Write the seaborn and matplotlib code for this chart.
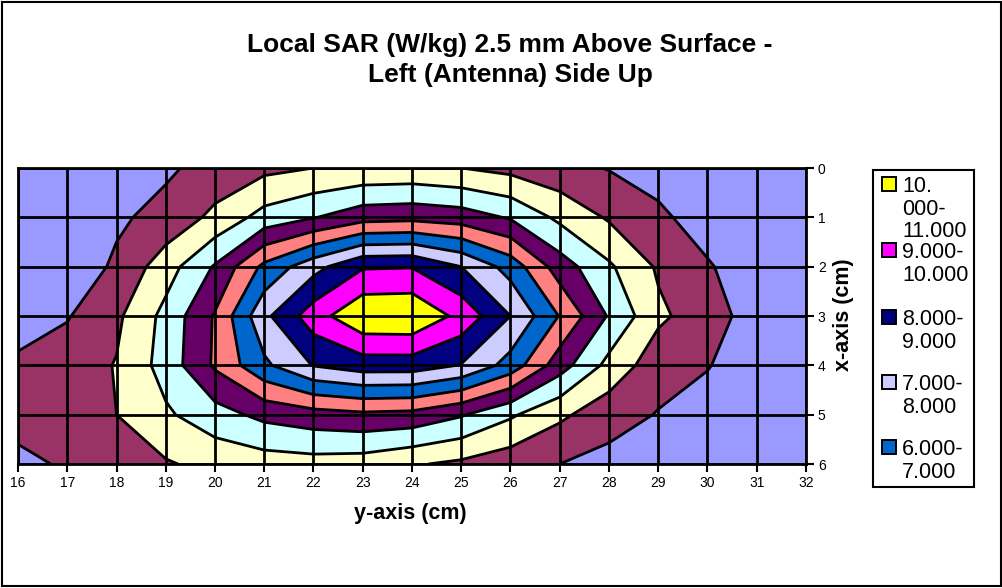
import numpy as np
import matplotlib
matplotlib.use("Agg")
import matplotlib.pyplot as plt
from matplotlib.patches import Rectangle
import seaborn as sns

# ---- data -------------------------------------------------------------
y_cm = list(range(16, 33))          # horizontal axis ("y-axis (cm)")
x_cm = list(range(0, 7))            # vertical axis ("x-axis (cm)")

sar_x0 = [0.15, 0.3, 0.5, 0.85, 1.35, 1.75, 2.0, 2.15, 2.2, 2.0, 1.7, 1.3, 0.95, 0.6, 0.4, 0.3, 0.2]
sar_x1 = [0.25, 0.5, 0.85, 1.3, 2.25, 3.37, 3.95, 4.6, 4.7, 4.5, 3.9, 2.77, 1.88, 1.2, 0.53, 0.35, 0.25]
sar_x2 = [0.2, 0.4, 1.15, 2.55, 4.1, 6.25, 7.64, 8.9, 8.95, 8.0, 6.6, 4.5, 3.15, 1.87, 1.1, 0.4, 0.2]
sar_x3 = [0.5, 0.93, 1.8, 3.3, 5.1, 7.75, 9.55, 10.85, 10.9, 9.7, 8.0, 5.95, 3.9, 2.2, 1.45, 0.55, 0.3]
sar_x4 = [1.2, 1.5, 2.05, 3.4, 5.15, 6.8, 8.05, 8.5, 8.5, 7.95, 6.6, 4.45, 2.7, 1.4, 1.05, 0.45, 0.25]
sar_x5 = [1.3, 1.6, 2.0, 2.85, 3.6, 4.27, 4.6, 4.8, 4.7, 4.1, 3.15, 2.2, 1.4, 0.95, 0.6, 0.4, 0.25]
sar_x6 = [0.8, 1.1, 1.5, 1.9, 2.3, 2.5, 2.6, 2.5, 2.1, 1.8, 1.4, 1.0, 0.7, 0.5, 0.35, 0.3, 0.2]

levels = [0, 1, 2, 3, 4, 5, 6, 7, 8, 9, 10, 11]
band_colors = ["#9999FF", "#993366", "#FFFFCC", "#CCFFFF", "#660066", "#FF8080",
               "#0066CC", "#CCCCFF", "#000080", "#FF00FF", "#FFFF00"]

legend_labels = ["10.\n000-\n11.000", "9.000-\n10.000", "8.000-\n9.000",
                 "7.000-\n8.000", "6.000-\n7.000"]
legend_colors = ["#FFFF00", "#FF00FF", "#000080", "#CCCCFF", "#0066CC"]

title = "Local SAR (W/kg) 2.5 mm Above Surface -\nLeft (Antenna) Side Up"

# ---- style ------------------------------------------------------------
sns.set_theme(style="white")
plt.rcParams["font.family"] = ["Liberation Sans", "DejaVu Sans"]

W, H = 1003, 588
fig = plt.figure(figsize=(W / 100, H / 100), dpi=100)
fig.patch.set_facecolor("white")

L, R, T, B = 18, 806, 168, 464
ax = fig.add_axes([L / W, 1 - B / H, (R - L) / W, (B - T) / H])

Z = np.array([sar_x0, sar_x1, sar_x2, sar_x3, sar_x4, sar_x5, sar_x6])
YY, XX = np.meshgrid(y_cm, x_cm)

ax.contourf(YY, XX, Z, levels=levels, colors=band_colors, zorder=1)
ax.contour(YY, XX, Z, levels=levels[1:-1], colors="black", linewidths=2.0, zorder=2)

ax.set_xlim(16, 32)
ax.set_ylim(6, 0)
ax.set_xticks(y_cm)
ax.set_yticks(x_cm)
ax.yaxis.tick_right()
ax.tick_params(axis="both", which="major", length=6, width=1.5, color="black",
               labelsize=10, labelcolor="black", pad=2.5,
               bottom=True, right=True, left=False, top=False)
ax.set_axisbelow(False)
ax.grid(True, color="black", linewidth=2.0)
for s in ax.spines.values():
    s.set_color("black")
    s.set_linewidth(2.0)
    s.set_zorder(5)

ax.set_xlabel("")
ax.set_ylabel("")

# axis titles
fig.text(410 / W, 1 - 513 / H, "y-axis (cm)", ha="center", va="center",
         fontsize=15.5, fontweight="bold", color="black")
fig.text(844 / W, 1 - 315 / H, "x-axis (cm)", ha="center", va="center",
         fontsize=15.5, fontweight="bold", color="black", rotation=90)

# chart title
fig.text(510 / W, 1 - 60 / H, title, ha="center", va="center", fontsize=19,
         fontweight="bold", color="black", linespacing=1.3)

# legend (manually laid out)
fig.patches.append(Rectangle((873 / W, 1 - 487 / H), (974 - 873) / W, (487 - 170) / H,
                             transform=fig.transFigure, facecolor="white",
                             edgecolor="black", linewidth=1.5, zorder=3))
entry_tops = [177, 243, 310, 375, 440]
for top, lab, col in zip(entry_tops, legend_labels, legend_colors):
    fig.patches.append(Rectangle((882 / W, 1 - (top + 14) / H), 14 / W, 14 / H,
                                 transform=fig.transFigure, facecolor=col,
                                 edgecolor="black", linewidth=1.4, zorder=4))
    fig.text(902 / W, 1 - (top - 1) / H, lab, ha="left", va="top", fontsize=15.5,
             color="black", linespacing=1.1, zorder=5)

# outer chart border
fig.patches.append(Rectangle((2 / W, 2 / H), (W - 4) / W, (H - 4) / H,
                             transform=fig.transFigure, facecolor="none",
                             edgecolor="black", linewidth=1.5, zorder=0))

fig.savefig("out.png", dpi=100)
